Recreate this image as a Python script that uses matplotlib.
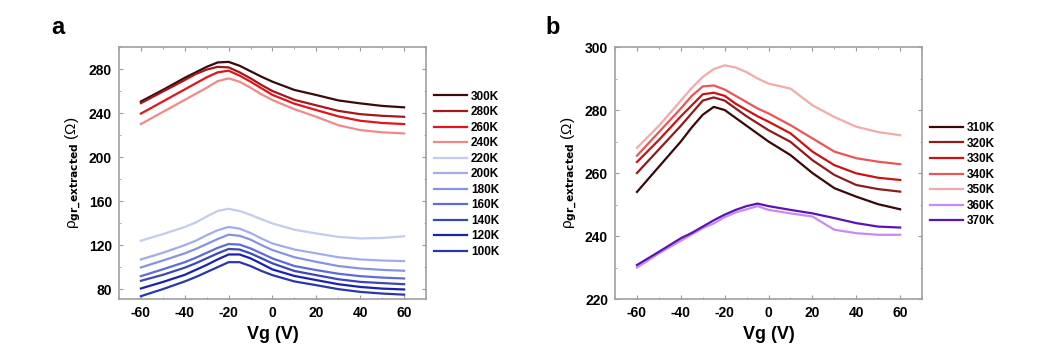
import matplotlib
matplotlib.use("Agg")
import matplotlib.pyplot as plt
from matplotlib.ticker import MultipleLocator

plt.rcParams["font.family"] = ["Liberation Sans", "DejaVu Sans"]
plt.rcParams["axes.unicode_minus"] = False

# ===== DATA =====
vg = [-60, -50, -40, -35, -30, -25, -20, -15, -10, -5, 0, 10, 20, 30, 40, 50, 60]

# panel a
temps_a = ["300K", "280K", "260K", "240K", "220K", "200K", "180K", "160K", "140K", "120K", "100K"]
rho_300 = [250.5, 261, 272, 277, 282, 286, 286.5, 283, 278, 273, 268.5, 261, 256.4, 251.5, 248.8, 246.5, 245.2]
rho_280 = [249, 259.5, 270, 275.5, 279.5, 282, 281.5, 277, 271.5, 265.5, 260, 252, 247, 242, 239, 237.5, 236.6]
rho_260 = [239.5, 250.5, 261.5, 267, 272.5, 277, 278.5, 274, 268.5, 262.5, 256.5, 248.5, 242.7, 237, 233, 231, 230]
rho_240 = [230, 241, 252, 257.5, 263, 269, 271.5, 268.5, 263, 257, 251.8, 243.5, 236.6, 229, 224.5, 222.5, 221.5]
rho_220 = [124, 130, 136.5, 140.5, 146, 151, 153, 151, 147.5, 143.5, 139.7, 134, 130.6, 127.5, 126.1, 126.5, 128]
rho_200 = [107, 113, 120, 124, 129, 133.5, 136.5, 135, 131, 126, 121.5, 116, 112.5, 109, 107, 106, 105.5]
rho_180 = [99.7, 106, 112.5, 116.5, 121, 125.5, 129.5, 128.5, 125, 120, 115.5, 109, 104.8, 101, 98.8, 97.5, 96.7]
rho_160 = [91.8, 98, 104.5, 108.5, 113, 117.5, 121, 120.5, 117, 112.5, 107.9, 101, 97.3, 94, 91.8, 90.5, 89.7]
rho_140 = [87.6, 93, 99.5, 103.5, 108, 112.5, 116.5, 116, 112.5, 108, 103.4, 96.5, 92.7, 89, 86.6, 85.5, 84.5]
rho_120 = [80.6, 86.5, 93, 97.5, 102, 107, 111.5, 111.5, 108, 103, 97.9, 92, 88.2, 84.5, 82, 80.5, 79.7]
rho_100 = [73.6, 80, 87, 91, 95.5, 100, 104.5, 104.5, 101, 96.5, 92.7, 87, 83.6, 80, 77.5, 76, 75]
series_a = [rho_300, rho_280, rho_260, rho_240, rho_220, rho_200,
            rho_180, rho_160, rho_140, rho_120, rho_100]
colors_a = ["#3a0a0c", "#a3181c", "#e3141a", "#f08a8a", "#c4caf0", "#a3acea",
            "#8693e2", "#5d6cd8", "#3a48b8", "#1a22b0", "#2a38a8"]

# panel b
temps_b = ["310K", "320K", "330K", "340K", "350K", "360K", "370K"]
rho_310 = [254, 262, 270, 274.5, 278.5, 281, 280, 277.5, 275, 272.5, 270, 265.7, 260, 255.2, 252.5, 250.1, 248.5]
rho_320 = [260, 267.5, 275, 279, 283, 284, 283, 280.5, 278, 275.8, 273.6, 269.9, 264.1, 259.4, 256.2, 254.9, 254.1]
rho_330 = [263.5, 270.5, 278, 281.5, 285, 285.5, 284.5, 282, 280, 278, 276.3, 272.6, 266.8, 262.5, 259.9, 258.5, 257.8]
rho_340 = [265.5, 273, 280.5, 284.5, 287.5, 287.8, 286.5, 284.5, 282.5, 280.5, 278.9, 275.2, 271, 266.8, 264.7, 263.6, 262.8]
rho_350 = [268, 275, 283, 287, 290.5, 293, 294.2, 293.5, 292, 290, 288.4, 286.8, 281.5, 277.8, 274.7, 273, 272]
rho_360 = [230, 234.5, 238.5, 240.5, 242.5, 244, 246, 247.5, 248.5, 249.5, 248.3, 247.2, 246.2, 242, 240.9, 240.4, 240.4]
rho_370 = [230.8, 235, 239.3, 241, 243, 245, 246.8, 248.3, 249.5, 250.3, 249.5, 248.3, 247.2, 245.7, 244.1, 243, 242.7]
series_b = [rho_310, rho_320, rho_330, rho_340, rho_350, rho_360, rho_370]
colors_b = ["#3a0808", "#8e1c1c", "#cc1212", "#ea5656", "#f2aaaa", "#c98af2", "#5a14b4"]

ylabel = r"ρ$_{\mathbf{gr\_extracted}}$ (Ω)"


def style_axes(ax, ylim, ymajor):
    ax.set_xlim(-70, 70)
    ax.set_ylim(*ylim)
    ax.xaxis.set_major_locator(MultipleLocator(20))
    ax.xaxis.set_minor_locator(MultipleLocator(10))
    ax.yaxis.set_major_locator(MultipleLocator(ymajor))
    ax.yaxis.set_minor_locator(MultipleLocator(ymajor / 2))
    ax.tick_params(which="both", direction="in", top=True, right=True,
                   color="#999999")
    ax.tick_params(which="major", length=3, labelsize=10, pad=5)
    ax.tick_params(which="minor", length=1.5)
    for lab in ax.get_xticklabels() + ax.get_yticklabels():
        lab.set_fontweight("bold")
    for sp in ax.spines.values():
        sp.set_color("#a0a0a0")
        sp.set_linewidth(1.2)
    ax.set_xlabel("Vg (V)", fontsize=13, fontweight="bold", labelpad=4)
    ax.set_ylabel(ylabel, fontsize=11, labelpad=4)


fig = plt.figure(figsize=(10.49, 3.59), dpi=100)
ax_a = fig.add_axes([0.1134, 0.167, 0.2927, 0.702])
ax_b = fig.add_axes([0.5863, 0.167, 0.2927, 0.702])

# ===== PANEL A =====
for rho, t, c in zip(series_a, temps_a, colors_a):
    ax_a.plot(vg, rho, color=c, lw=1.6, label=t)
style_axes(ax_a, (71, 300), 40)
ax_a.legend(loc="upper left", bbox_to_anchor=(1.0, 0.86), frameon=False,
            handlelength=2.8, handletextpad=0.3, labelspacing=0.3,
            borderaxespad=0.3, prop={"size": 8.5, "weight": "bold"})

# ===== PANEL B =====
for rho, t, c in zip(series_b, temps_b, colors_b):
    ax_b.plot(vg, rho, color=c, lw=1.6, label=t)
style_axes(ax_b, (220, 300), 20)
ax_b.legend(loc="upper left", bbox_to_anchor=(1.0, 0.735), frameon=False,
            handlelength=2.8, handletextpad=0.3, labelspacing=0.3,
            borderaxespad=0.3, prop={"size": 8.5, "weight": "bold"})

fig.text(0.049, 0.905, "a", fontsize=17, fontweight="bold")
fig.text(0.52, 0.905, "b", fontsize=17, fontweight="bold")

plt.savefig("out.png", dpi=100)
